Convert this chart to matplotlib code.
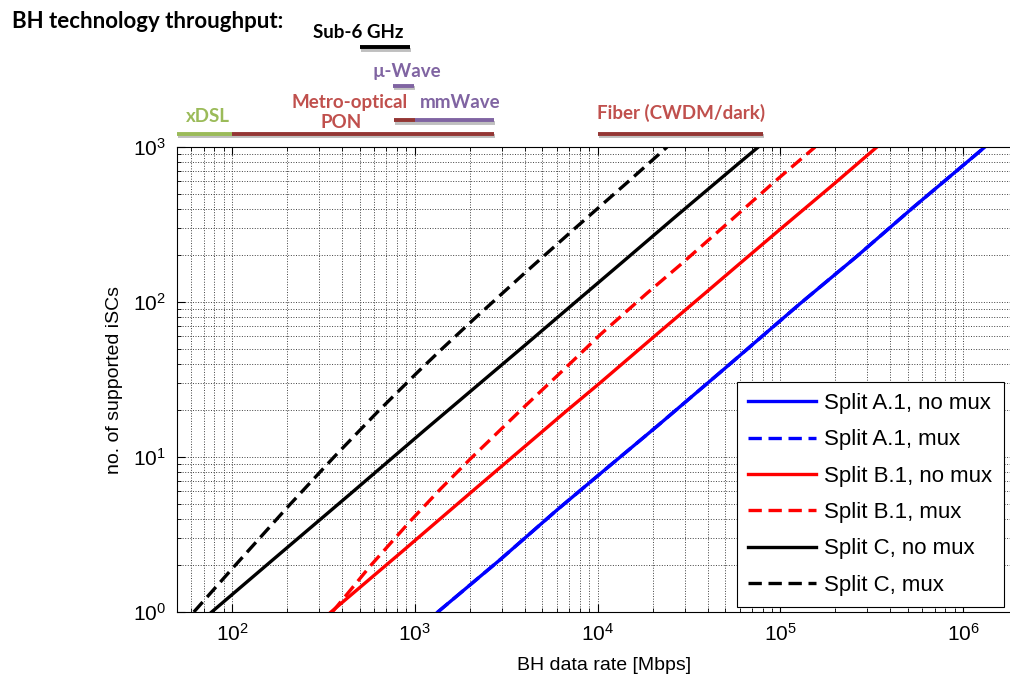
import numpy as np
import matplotlib
matplotlib.use("Agg")
import matplotlib.pyplot as plt
import matplotlib.transforms as mtransforms
import matplotlib.patheffects as pe

plt.rcParams['font.family'] = ['Liberation Sans', 'DejaVu Sans']
plt.rcParams['mathtext.fontset'] = 'custom'
plt.rcParams['mathtext.rm'] = 'Liberation Sans'
plt.rcParams['mathtext.it'] = 'Liberation Sans:italic'

# BH data rate [Mbps] vs. number of supported iSCs
a_rate = [1337, 2951, 6026, 11300, 21180, 48980, 128500, 262400, 533300, 1318000]
a_count = [1, 2.19, 4.57, 8.51, 15.8, 36.7, 97.7, 197, 407, 1000]
a_mux_rate = list(a_rate)
a_mux_count = list(a_count)

b_rate = [348, 851, 2023, 2951, 6823, 10370, 20320, 39810, 60390, 100000, 195900, 338100]
b_count = [1, 2.45, 5.89, 8.61, 20.0, 30.2, 59.6, 117, 178, 295, 575, 1000]
b_mux_rate = [354, 575, 951, 1387, 2023, 3793, 6546, 10370, 18660, 28440, 60390, 91830, 155200]
b_mux_count = [1, 2.0, 3.89, 6.24, 9.77, 20.0, 36.7, 61.7, 114, 174, 380, 589, 1000]

c_rate = [77.4, 161, 447, 1125, 2023, 3954, 7413, 13930, 26120, 57940, 75860]
c_count = [1, 2.09, 5.82, 14.8, 26.6, 51.9, 97.7, 184, 347, 767, 1000]
c_mux_rate = [61.8, 98.9, 201, 361, 622, 1035, 1387, 2109, 3954, 7413, 14520, 24040]
c_mux_count = [1, 1.87, 4.74, 9.98, 19.4, 35.2, 49.0, 77.6, 152, 294, 589, 1000]

labels = ['Split A.1, no mux', 'Split A.1, mux', 'Split B.1, no mux',
          'Split B.1, mux', 'Split C, no mux', 'Split C, mux']

# technology ranges drawn above the plot: (start, end, colour, height)
tech_spans = [
    (50, 100, '#9bbb59', 1.028),      # xDSL
    (100, 2700, '#943634', 1.028),    # Metro-optical / PON
    (770, 1000, '#943634', 1.057),
    (1000, 2700, '#8064a2', 1.057),   # mmWave
    (760, 990, '#8064a2', 1.131),     # u-Wave
    (500, 940, '#000000', 1.214),     # Sub-6 GHz
    (10000, 80000, '#943634', 1.028), # Fiber
]
tech_labels = [
    ('xDSL', 74, 1.065, '#9bbb59'),
    ('Metro-optical', 441, 1.095, '#c0504d'),
    ('PON', 394, 1.052, '#c0504d'),
    ('mmWave', 1782, 1.095, '#8064a2'),
    ('\u00b5-Wave', 904, 1.163, '#8064a2'),
    ('Sub-6 GHz', 489, 1.247, '#000000'),
    ('Fiber (CWDM/dark)', 28800, 1.073, '#c0504d'),
]

fig = plt.figure(figsize=(10.10, 6.84), dpi=100)
ax = fig.add_axes([177 / 1010, 72 / 684, 841 / 1010, 465 / 684])

lw = 2.4
dash = (4, 2)
ax.plot(a_rate, a_count, color='#0000ff', lw=lw, label=labels[0])
ax.plot(a_mux_rate, a_mux_count, color='#0000ff', lw=lw, dashes=dash, label=labels[1])
ax.plot(b_rate, b_count, color='#ff0000', lw=lw, label=labels[2])
ax.plot(b_mux_rate, b_mux_count, color='#ff0000', lw=lw, dashes=dash, label=labels[3])
ax.plot(c_rate, c_count, color='#000000', lw=lw, label=labels[4])
ax.plot(c_mux_rate, c_mux_count, color='#000000', lw=lw, dashes=dash, label=labels[5])

ax.set_xscale('log')
ax.set_yscale('log')
ax.set_xlim(50, 2e6)
ax.set_ylim(1, 1000)

ax.grid(True, which='both', linestyle=':', color='0.25', linewidth=0.7)
ax.tick_params(which='both', direction='in', top=True, right=True, labelsize=15, pad=8)
ax.tick_params(which='major', length=6, width=0.8)
ax.tick_params(which='minor', length=3, width=0.6)
for s in ax.spines.values():
    s.set_linewidth(0.8)

ax.set_xlabel('BH data rate [Mbps]', fontsize=14)
ax.set_ylabel('no. of supported iSCs', fontsize=14)
ax.xaxis.set_label_coords(0.508, -0.097)
ax.yaxis.set_label_coords(-0.064, 0.5)

leg = ax.legend(loc='lower left', bbox_to_anchor=(0.666, 0.011), borderaxespad=0,
                fontsize=16, handlelength=3.06, handletextpad=0.37,
                labelspacing=0.69, borderpad=0.5, fancybox=False, framealpha=1)
leg.get_frame().set_edgecolor('black')
leg.get_frame().set_linewidth(0.8)

# technology throughput ranges
trans = mtransforms.blended_transform_factory(ax.transData, ax.transAxes)
shadow = [pe.SimpleLineShadow(offset=(0.8, -1.5), alpha=0.25), pe.Normal()]
for x0, x1, col, y in tech_spans:
    ax.plot([x0, x1], [y, y], transform=trans, color=col, lw=2.8,
            solid_capstyle='butt', clip_on=False, path_effects=shadow)
for txt, x, y, col in tech_labels:
    ax.text(x, y, txt, transform=trans, color=col, ha='center', va='center',
            fontsize=13.5, fontweight='bold', family=['Lato', 'DejaVu Sans'],
            clip_on=False)

fig.text(12 / 1010, 1 - 22 / 684, 'BH technology throughput:', ha='left', va='center',
         fontsize=16, fontweight='bold', family=['Lato', 'DejaVu Sans'])

fig.savefig('out.png', dpi=100)
